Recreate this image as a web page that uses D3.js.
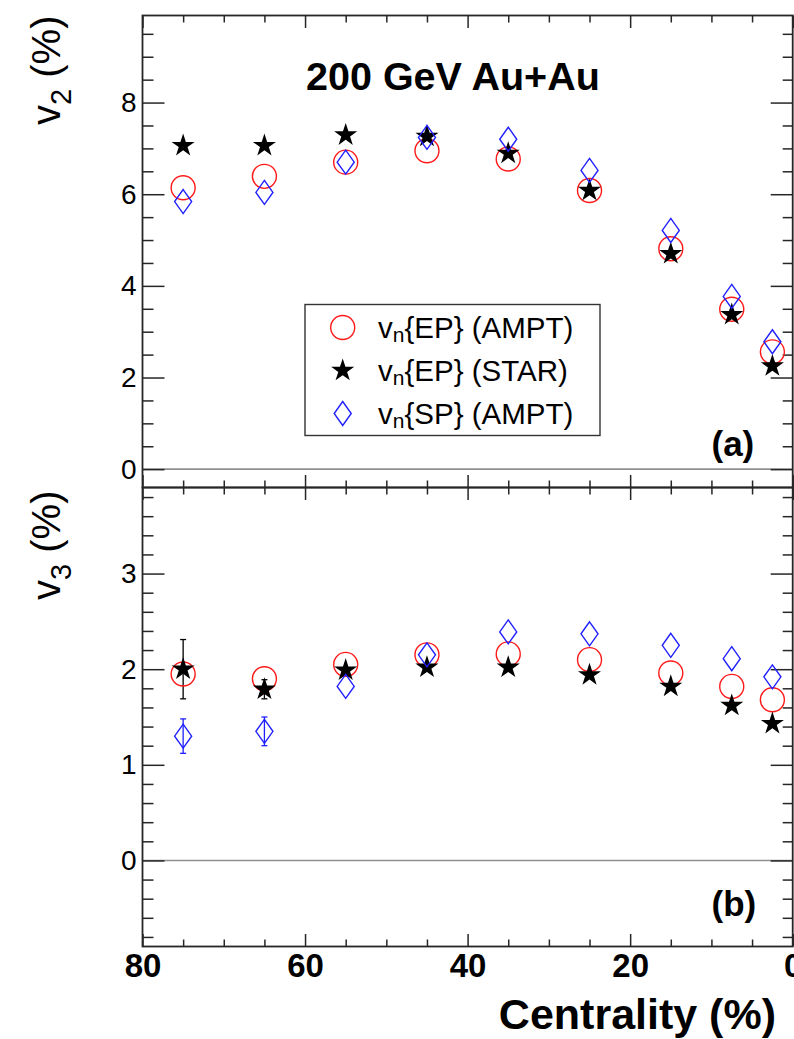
<!DOCTYPE html>
<html>
<head>
<meta charset="utf-8">
<script src="https://cdn.jsdelivr.net/npm/d3@7"></script>
<style>
  html, body { margin: 0; padding: 0; background: #fff; }
  svg { display: block; font-family: "Liberation Sans", Arial, Helvetica, sans-serif; }
</style>
</head>
<body>
<svg id="chart" width="794" height="1039"></svg>
<script>
// Centrality bin centres (%)
const centrality = [75, 65, 55, 45, 35, 25, 15, 7.5, 2.5];

// Elliptic flow v2 (%)
const v2EpAmpt = [6.14, 6.39, 6.70, 6.95, 6.77, 6.08, 4.81, 3.49, 2.56];
const v2EpStar = [7.06, 7.06, 7.29, 7.26, 6.89, 6.08, 4.70, 3.37, 2.25];
const v2SpAmpt = [5.84, 6.04, 6.70, 7.24, 7.20, 6.52, 5.21, 3.77, 2.78];

// Triangular flow v3 (%) and uncertainties (0 = smaller than the marker)
const v3EpAmpt = [1.95, 1.90, 2.05, 2.15, 2.16, 2.10, 1.96, 1.82, 1.68];
const v3EpStar = [2.00, 1.79, 1.99, 2.02, 2.02, 1.94, 1.82, 1.62, 1.43];
const v3EpStarErr = [0.31, 0.10, 0, 0, 0, 0, 0, 0, 0];
const v3SpAmpt = [1.30, 1.35, 1.82, 2.15, 2.39, 2.37, 2.25, 2.11, 1.92];
const v3SpAmptErr = [0.18, 0.15, 0, 0, 0, 0, 0, 0, 0];

// Axis tick values
const xMajor = [80, 60, 40, 20, 0];
const xMinor = [75, 70, 65, 55, 50, 45, 35, 30, 25, 15, 10, 5];
const v2Major = [0, 2, 4, 6, 8];
const v2Minor = [0.5, 1, 1.5, 2.5, 3, 3.5, 4.5, 5, 5.5, 6.5, 7, 7.5, 8.5, 9, 9.5];
const v3Major = [0, 1, 2, 3];
const v3Minor = [-0.8, -0.6, -0.4, -0.2, 0.2, 0.4, 0.6, 0.8, 1.2, 1.4, 1.6, 1.8,
                 2.2, 2.4, 2.6, 2.8, 3.2, 3.4, 3.6, 3.8];

// Legend entries
const legendLabels = [
  { main: "v", sub: "n", rest: "{EP} (AMPT)", kind: "ampt" },
  { main: "v", sub: "n", rest: "{EP} (STAR)", kind: "star" },
  { main: "v", sub: "n", rest: "{SP} (AMPT)", kind: "sp" }
];

const svg = d3.select("#chart");
const frameColor = "#262626";

const X0 = 142.5, X1 = 792.7;
const x = d3.scaleLinear().domain([80, 0]).range([X0, X1]);

const yTop = d3.scaleLinear().domain([-0.4, 9.9]).range([487.5, 15.5]);
const yBot = d3.scaleLinear().domain([-0.9, 3.9]).range([946.5, 487.5]);

// Marker shapes
const tallDiamond = {
  draw(ctx, size) {
    const hy = Math.sqrt(size) / 2, hx = hy * 0.71;
    ctx.moveTo(0, -hy); ctx.lineTo(hx, 0); ctx.lineTo(0, hy); ctx.lineTo(-hx, 0); ctx.closePath();
  }
};
const circlePath = d3.symbol().type(d3.symbolCircle).size(Math.PI * 12 * 12)();
const starPath = d3.symbol().type(d3.symbolStar).size(165)();
const diamondPath = d3.symbol().type(tallDiamond).size(24 * 24)();

const markerStyle = {
  ampt: s => s.attr("d", circlePath).attr("fill", "none").attr("stroke", "#ff1a1a").attr("stroke-width", 1.4),
  star: s => s.attr("d", starPath).attr("fill", "#000").attr("stroke", "none"),
  sp:   s => s.attr("d", diamondPath).attr("fill", "none").attr("stroke", "#1f1fff").attr("stroke-width", 1.4)
};

function styleAxis(g) {
  g.select(".domain").remove();
  g.selectAll(".tick line").attr("stroke", frameColor).attr("stroke-width", 1.5);
}

function drawPanel(y, major, minor, series, isBottom) {
  const top = y.range()[1], bottom = y.range()[0];
  const g = svg.append("g");

  // zero reference line
  g.append("line")
    .attr("x1", X0).attr("x2", X1)
    .attr("y1", y(0)).attr("y2", y(0))
    .attr("stroke", "#8f8f8f").attr("stroke-width", 1.6);

  // left axis
  g.append("g").attr("transform", `translate(${X0},0)`)
    .call(d3.axisLeft(y).tickValues(minor).tickSize(-11).tickFormat(""))
    .call(styleAxis);
  g.append("g").attr("transform", `translate(${X0},0)`)
    .call(d3.axisLeft(y).tickValues(major).tickSize(-22).tickPadding(6).tickFormat(d3.format("d")))
    .call(styleAxis)
    .call(a => a.selectAll("text").attr("font-size", 28).attr("fill", "#000")
      .attr("font-family", "'Liberation Sans', Arial, sans-serif"));

  // right axis
  g.append("g").attr("transform", `translate(${X1},0)`)
    .call(d3.axisRight(y).tickValues(minor).tickSize(-10).tickFormat(""))
    .call(styleAxis);
  g.append("g").attr("transform", `translate(${X1},0)`)
    .call(d3.axisRight(y).tickValues(major).tickSize(-22).tickFormat(""))
    .call(styleAxis);

  // top x axis
  g.append("g").attr("transform", `translate(0,${top})`)
    .call(d3.axisTop(x).tickValues(xMinor).tickSize(-7).tickFormat(""))
    .call(styleAxis);
  g.append("g").attr("transform", `translate(0,${top})`)
    .call(d3.axisTop(x).tickValues(xMajor).tickSize(-12.5).tickFormat(""))
    .call(styleAxis);

  // bottom x axis
  g.append("g").attr("transform", `translate(0,${bottom})`)
    .call(d3.axisBottom(x).tickValues(xMinor).tickSize(-7).tickFormat(""))
    .call(styleAxis);
  const bx = g.append("g").attr("transform", `translate(0,${bottom})`)
    .call(d3.axisBottom(x).tickValues(xMajor).tickSize(-12.5).tickPadding(7)
      .tickFormat(isBottom ? d3.format("d") : ""))
    .call(styleAxis);
  bx.selectAll("text").attr("font-size", 33).attr("font-weight", "bold").attr("fill", "#000")
    .attr("font-family", "'Liberation Sans', Arial, sans-serif");

  // frame
  g.append("rect")
    .attr("x", X0).attr("y", top)
    .attr("width", X1 - X0).attr("height", bottom - top)
    .attr("fill", "none").attr("stroke", frameColor).attr("stroke-width", 1.8);

  // error bars (only where larger than the marker)
  series.forEach(s => {
    if (!s.err) return;
    const eg = g.append("g").attr("stroke", s.errColor).attr("stroke-width", 1.3);
    const rows = centrality.map((c, i) => ({ c, v: s.values[i], e: s.err[i] })).filter(d => d.e > 0);
    eg.selectAll("line.v").data(rows).join("line")
      .attr("x1", d => x(d.c)).attr("x2", d => x(d.c))
      .attr("y1", d => y(d.v + d.e)).attr("y2", d => y(d.v - d.e));
    eg.selectAll("line.t").data(rows).join("line")
      .attr("x1", d => x(d.c) - 3).attr("x2", d => x(d.c) + 3)
      .attr("y1", d => y(d.v + d.e)).attr("y2", d => y(d.v + d.e));
    eg.selectAll("line.b").data(rows).join("line")
      .attr("x1", d => x(d.c) - 3).attr("x2", d => x(d.c) + 3)
      .attr("y1", d => y(d.v - d.e)).attr("y2", d => y(d.v - d.e));
  });

  // markers
  series.forEach(s => {
    g.append("g").selectAll("path")
      .data(centrality.map((c, i) => ({ c, v: s.values[i] })))
      .join("path")
      .attr("transform", d => `translate(${x(d.c)},${y(d.v)})`)
      .call(markerStyle[s.kind]);
  });
  return g;
}

drawPanel(yTop, v2Major, v2Minor, [
  { kind: "ampt", values: v2EpAmpt },
  { kind: "star", values: v2EpStar },
  { kind: "sp", values: v2SpAmpt }
], false);

drawPanel(yBot, v3Major, v3Minor, [
  { kind: "ampt", values: v3EpAmpt },
  { kind: "star", values: v3EpStar, err: v3EpStarErr, errColor: "#000" },
  { kind: "sp", values: v3SpAmpt, err: v3SpAmptErr, errColor: "#1f1fff" }
], true);

// y-axis titles (rotated)
function yTitle(yEnd, sub) {
  const t = svg.append("text")
    .attr("transform", `translate(60,${yEnd}) rotate(-90)`)
    .attr("text-anchor", "end")
    .attr("font-size", 40).attr("fill", "#000");
  t.append("tspan").text("v");
  t.append("tspan").attr("font-size", 29).attr("dy", 11).text(sub);
  t.append("tspan").attr("dy", -11).text(" (%)");
}
yTitle(15.5, "2");
yTitle(490.5, "3");

// x-axis title
svg.append("text")
  .attr("x", 776).attr("y", 1029)
  .attr("text-anchor", "end")
  .attr("font-size", 43).attr("font-weight", "bold").attr("fill", "#000")
  .text("Centrality (%)");

// collision system label
svg.append("text")
  .attr("x", 306).attr("y", 90)
  .attr("font-size", 39.5).attr("font-weight", "bold").attr("fill", "#000")
  .text("200 GeV Au+Au");

// panel tags
svg.append("text").attr("x", 711.5).attr("y", 456)
  .attr("font-size", 35).attr("font-weight", "bold").text("(a)");
svg.append("text").attr("x", 711.5).attr("y", 916)
  .attr("font-size", 35).attr("font-weight", "bold").text("(b)");

// legend
const legend = svg.append("g");
legend.append("rect")
  .attr("x", 305).attr("y", 304.5).attr("width", 295).attr("height", 131)
  .attr("fill", "#fff").attr("stroke", "#333").attr("stroke-width", 1.4);
const rowY = d3.scalePoint().domain(d3.range(legendLabels.length)).range([327.5, 413.5]);
const rows = legend.selectAll("g.row").data(legendLabels).join("g")
  .attr("class", "row")
  .attr("transform", (d, i) => `translate(0,${rowY(i)})`);
rows.append("path")
  .attr("transform", "translate(342.7,0)")
  .each(function (d) { d3.select(this).call(markerStyle[d.kind]); });
const lt = rows.append("text")
  .attr("x", 378).attr("y", 10)
  .attr("font-size", 29.5).attr("fill", "#000");
lt.append("tspan").text(d => d.main);
lt.append("tspan").attr("font-size", 21).attr("dy", 4).text(d => d.sub);
lt.append("tspan").attr("dy", -4).text(d => d.rest);
</script>
</body>
</html>
